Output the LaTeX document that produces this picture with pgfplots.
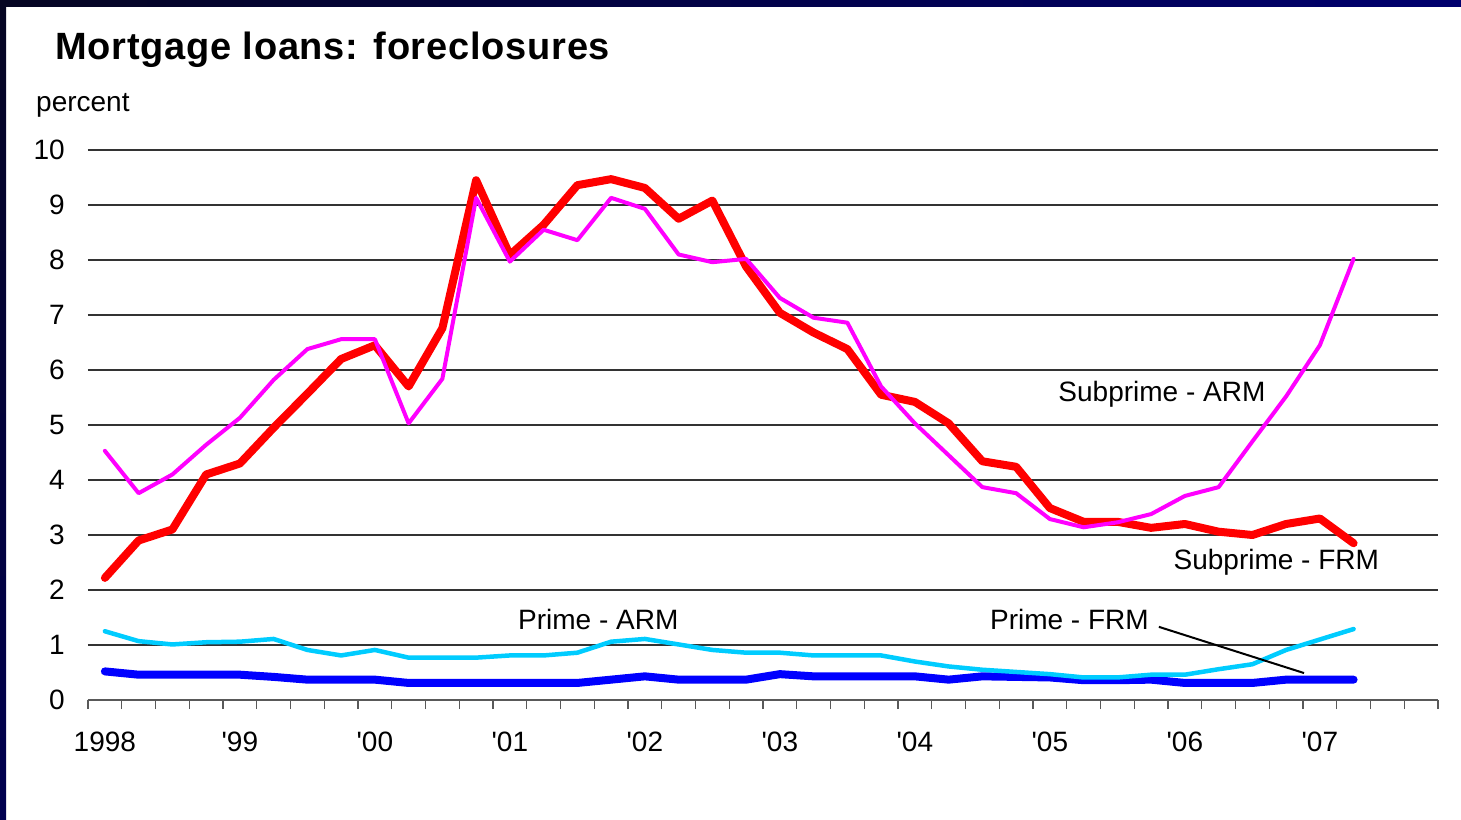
\documentclass[border=0pt]{standalone}
\usepackage{fontspec}
\setmainfont{Liberation Sans}
\newfontfamily\titlefont[LetterSpace=2.0]{Liberation Sans}
\usepackage{pgfplots}
\pgfplotsset{compat=1.18}
\usepackage{pgfplotstable}

\definecolor{sfrm}{RGB}{255,0,0}
\definecolor{sarm}{RGB}{255,0,255}
\definecolor{parm}{RGB}{0,204,255}
\definecolor{pfrm}{RGB}{0,0,255}
\definecolor{navyA}{RGB}{5,5,35}
\definecolor{navyB}{RGB}{0,0,110}
\definecolor{navyC}{RGB}{0,0,80}

\pgfplotstableread{
i sfrm sarm parm pfrm
0 2.22 4.53 1.25 0.52
1 2.90 3.76 1.07 0.46
2 3.10 4.10 1.01 0.46
3 4.10 4.64 1.05 0.46
4 4.30 5.13 1.06 0.46
5 4.95 5.82 1.11 0.42
6 5.57 6.38 0.91 0.37
7 6.20 6.56 0.81 0.37
8 6.45 6.56 0.91 0.37
9 5.70 5.03 0.77 0.31
10 6.76 5.84 0.77 0.31
11 9.45 9.13 0.77 0.31
12 8.09 7.97 0.81 0.31
13 8.64 8.55 0.81 0.31
14 9.36 8.36 0.86 0.31
15 9.47 9.13 1.06 0.37
16 9.31 8.93 1.11 0.43
17 8.75 8.10 1.01 0.37
18 9.08 7.96 0.91 0.37
19 7.88 8.02 0.86 0.37
20 7.04 7.31 0.86 0.47
21 6.68 6.95 0.81 0.43
22 6.38 6.86 0.81 0.43
23 5.55 5.70 0.81 0.43
24 5.42 5.03 0.70 0.43
25 5.03 4.45 0.61 0.37
26 4.34 3.87 0.55 0.43
27 4.24 3.76 0.51 0.42
28 3.49 3.29 0.47 0.41
29 3.24 3.14 0.41 0.36
30 3.24 3.23 0.41 0.36
31 3.13 3.38 0.46 0.37
32 3.20 3.71 0.46 0.31
33 3.06 3.87 0.56 0.31
34 3.00 4.70 0.65 0.31
35 3.20 5.52 0.91 0.37
36 3.30 6.45 1.10 0.37
37 2.85 8.02 1.29 0.37
}\mydata

\begin{document}
\begin{tikzpicture}
\useasboundingbox (0pt,0pt) rectangle (1461pt,819pt);
\fill[white] (0pt,0pt) rectangle (1461pt,819pt);
\shade[left color=navyA, right color=navyB] (0pt,812pt) rectangle (1461pt,819pt);
\shade[top color=navyA, bottom color=navyC] (0pt,0pt) rectangle (6pt,812pt);

\node[anchor=west, inner sep=0pt, font=\titlefont\bfseries\fontsize{38}{44}\selectfont] at (55pt,769pt) {Mortgage loans: foreclosures};
\node[anchor=base west, inner sep=0pt, font=\fontsize{28}{32}\selectfont] at (36pt,707pt) {percent};

\begin{axis}[
  at={(88pt,119pt)}, anchor=south west,
  scale only axis, width=1350pt, height=550pt,
  xmin=-0.5, xmax=39.5, ymin=0, ymax=10,
  axis x line*=bottom, axis y line*=left,
  y axis line style={draw=none},
  x axis line style={black!65, line width=1.5pt},
  ytick={0,1,...,10},
  ymajorgrids,
  grid style={black!80, line width=1.2pt},
  ytick style={draw=none},
  xtick={0,4,...,36},
  xticklabels={1998,\textquotesingle 99,\textquotesingle 00,\textquotesingle 01,\textquotesingle 02,\textquotesingle 03,\textquotesingle 04,\textquotesingle 05,\textquotesingle 06,\textquotesingle 07},
  minor xtick={-0.5,0.5,...,39.5},
  tick align=outside,
  major tick length=0pt,
  minor tick length=9pt,
  minor tick style={black!65, line width=1.3pt},
  xticklabel style={anchor=north, inner sep=0pt, yshift=-32pt, font=\fontsize{28}{32}\selectfont},
  yticklabel style={anchor=east, inner sep=0pt, xshift=-23pt, font=\fontsize{28}{32}\selectfont},
  /pgf/number format/assume math mode=true,
  no markers,
  every axis plot/.append style={line join=round, line cap=round},
]
\addplot[pfrm, line width=8pt] table[x=i,y=pfrm]{\mydata};
\addplot[parm, line width=4.5pt] table[x=i,y=parm]{\mydata};
\addplot[sfrm, line width=8pt] table[x=i,y=sfrm]{\mydata};
\addplot[sarm, line width=4pt] table[x=i,y=sarm]{\mydata};

\node[inner sep=0pt, font=\fontsize{28}{32}\selectfont] at (axis cs:31.32,5.55) {Subprime - ARM};
\node[inner sep=0pt, font=\fontsize{28}{32}\selectfont] at (axis cs:34.71,2.50) {Subprime - FRM};
\node[inner sep=0pt, font=\fontsize{28}{32}\selectfont] at (axis cs:14.62,1.47) {Prime - ARM};
\node[inner sep=0pt, font=\fontsize{28}{32}\selectfont] at (axis cs:28.58,1.47) {Prime - FRM};
\draw[black, line width=2pt] (axis cs:31.23,1.33) -- (axis cs:35.53,0.49);
\end{axis}
\end{tikzpicture}
\end{document}
